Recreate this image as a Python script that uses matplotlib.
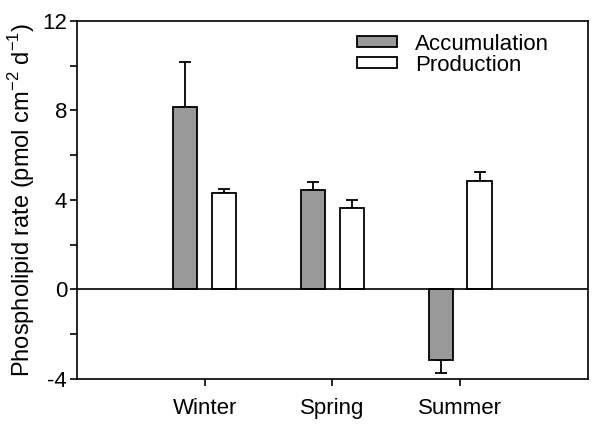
import matplotlib
matplotlib.use("Agg")
import matplotlib.pyplot as plt
import numpy as np
from matplotlib.ticker import MultipleLocator

plt.rcParams['font.family'] = ['Liberation Sans', 'DejaVu Sans']
plt.rcParams['axes.unicode_minus'] = False
plt.rcParams['mathtext.fontset'] = 'custom'
plt.rcParams['mathtext.rm'] = 'Liberation Sans'

# data
seasons = ["Winter", "Spring", "Summer"]
accumulation = [8.17, 4.43, -3.17]
accumulation_err = [2.0, 0.39, 0.58]
production = [4.33, 3.66, 4.87]
production_err = [0.18, 0.36, 0.37]

x = np.arange(len(seasons))
w = 0.19
off = 0.152


def one_sided(vals, errs):
    vals = np.asarray(vals)
    errs = np.asarray(errs)
    lower = np.where(vals < 0, errs, 0)
    upper = np.where(vals >= 0, errs, 0)
    return [lower, upper]


fig = plt.figure(figsize=(6.0, 4.28), dpi=100)
ax = fig.add_axes([0.128, 0.1145, 0.852, 0.8365])

ax.bar(x - off, accumulation, w, color="#999999", edgecolor="black",
       linewidth=1.3, zorder=3, label="Accumulation")
ax.bar(x + off, production, w, color="white", edgecolor="black",
       linewidth=1.3, zorder=3, label="Production")
ax.errorbar(x - off, accumulation, yerr=one_sided(accumulation, accumulation_err),
            fmt="none", ecolor="black", elinewidth=1.3, capsize=4.3,
            capthick=1.3, zorder=2)
ax.errorbar(x + off, production, yerr=one_sided(production, production_err),
            fmt="none", ecolor="black", elinewidth=1.3, capsize=4.3,
            capthick=1.3, zorder=2)

ax.axhline(0, color="black", linewidth=1.2, zorder=4)

ax.set_xlim(-1, 3)
ax.set_ylim(-4, 12)
ax.set_xticks(x)
ax.set_xticklabels(seasons)
ax.yaxis.set_major_locator(MultipleLocator(4))
ax.yaxis.set_minor_locator(MultipleLocator(2))
ax.tick_params(axis="both", labelsize=16, width=1.2, direction="out")
ax.tick_params(axis="y", which="major", length=5, pad=2)
ax.tick_params(axis="y", which="minor", length=5, width=1.2)
ax.tick_params(axis="x", length=5, pad=9)
for s in ax.spines.values():
    s.set_linewidth(1.2)

ax.set_ylabel(r"Phospholipid rate (pmol cm$^{\mathrm{-2}}$ d$^{\mathrm{-1}}$)",
              fontsize=17, labelpad=4)

ax.legend(loc="upper left", bbox_to_anchor=(0.548, 0.965), frameon=False,
          fontsize=16, handlelength=1.8, handleheight=0.36,
          handletextpad=0.8, labelspacing=0.0, borderpad=0,
          borderaxespad=0)

fig.savefig("out.png", dpi=100)
